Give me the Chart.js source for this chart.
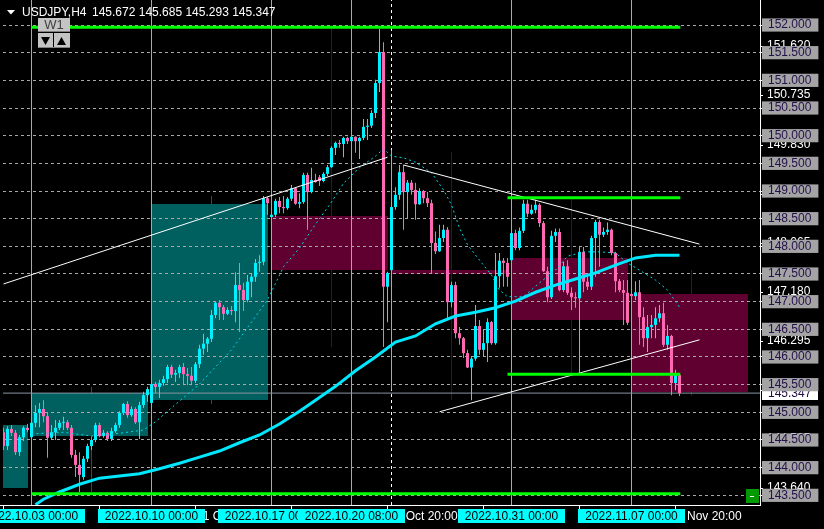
<!DOCTYPE html>
<html lang="en">
<head>
<meta charset="UTF-8" />
<title>USDJPY,H4</title>
<script src="https://cdn.jsdelivr.net/npm/chart.js"></script>
<style>
    html, body { margin: 0; padding: 0; background: #000; }
    canvas { display: block; }
</style>
</head>
<body>
<canvas id="chart" width="824" height="529"></canvas>
<script>
// bar index 0 = 2022.10.03 00:00, one H4 bar each, 30 bars per week
const firstBar = -7;

const open = [
    144.64, 144.39, 144.70, 144.63, 144.28, 144.55, 144.72,
    144.55, 144.81, 144.99, 145.06, 144.93, 144.54, 144.64, 144.72, 144.81, 144.82,
    144.72, 144.23, 144.05, 143.83, 144.16, 144.39, 144.50, 144.77, 144.57, 144.63,
    144.52, 144.66, 144.77, 144.99, 145.15, 144.95, 145.06, 144.82, 145.13, 145.31,
    145.17, 145.51, 145.46, 145.53, 145.60, 145.82, 145.68, 145.71, 145.82, 145.69,
    145.66, 145.57, 145.87, 146.15, 146.24, 146.33, 146.76, 146.98, 146.90, 146.78,
    146.85, 146.83, 147.30, 147.21, 147.03, 147.36, 147.45, 147.70, 147.72, 148.87,
    148.53, 148.57, 148.82, 148.71, 148.69, 148.86, 149.05, 148.77, 148.80, 149.29,
    148.98, 149.20, 149.25, 149.18, 149.31, 149.43, 149.78, 149.87, 149.85, 149.96,
    149.90, 149.98, 149.90, 149.96, 150.16, 150.18, 150.41, 150.95, 151.51, 147.27,
    147.57, 148.71, 148.93, 149.34, 148.98, 149.15, 149.02, 148.76, 149.00, 148.87,
    148.78, 148.06, 147.91, 148.15, 148.30, 146.99, 147.30, 146.43, 146.34, 146.07,
    145.81, 145.97, 146.56, 146.13, 146.25, 146.63, 146.25, 147.46, 147.74, 147.70,
    147.75, 148.24, 147.97, 148.28, 148.77, 148.59, 148.66, 148.75, 148.42, 147.55,
    147.08, 148.19, 148.26, 147.21, 147.64, 147.16, 147.08, 147.06, 147.90, 147.36,
    147.27, 148.15, 148.44, 148.21, 148.26, 148.30, 147.88, 147.37, 147.21, 147.16,
    147.14, 147.10, 147.17, 146.72, 146.34, 146.54, 146.58, 146.70, 146.79, 146.22,
    146.38, 145.53, 145.672
];
const high = [
    144.72, 144.75, 144.77, 144.68, 144.59, 144.75, 144.79,
    144.99, 145.13, 145.17, 145.22, 144.99, 144.77, 144.86, 144.86, 144.92, 144.86,
    144.77, 144.32, 144.28, 144.21, 144.43, 144.55, 144.81, 144.81, 144.68, 144.66,
    144.72, 144.81, 145.02, 145.17, 145.20, 145.11, 145.09, 145.19, 145.37, 145.46,
    145.55, 145.55, 145.59, 145.66, 145.86, 145.86, 145.77, 145.86, 145.89, 145.80,
    145.82, 145.91, 146.22, 146.42, 146.36, 146.85, 147.01, 147.03, 146.94, 146.90,
    146.92, 147.53, 147.70, 147.34, 147.48, 147.52, 147.77, 147.84, 148.91, 148.89,
    148.66, 148.86, 148.89, 148.91, 148.89, 149.11, 149.07, 148.96, 149.33, 149.33,
    149.42, 149.31, 149.29, 149.34, 149.47, 149.81, 149.89, 149.92, 149.98, 149.98,
    150.00, 149.99, 149.98, 150.30, 150.30, 150.46, 151.01, 151.93, 151.69, 147.54,
    148.75, 149.07, 149.47, 149.47, 149.20, 149.20, 149.15, 149.05, 149.02, 148.98,
    148.84, 148.27, 148.39, 148.39, 148.35, 147.36, 147.36, 146.54, 146.36, 146.13,
    146.00, 146.94, 146.67, 146.49, 146.70, 146.65, 147.88, 147.88, 147.79, 147.79,
    148.30, 148.30, 148.34, 148.84, 148.84, 148.75, 148.84, 148.78, 148.46, 147.63,
    148.28, 148.32, 148.32, 147.72, 147.75, 147.26, 147.17, 147.99, 147.99, 147.52,
    148.19, 148.48, 148.48, 148.34, 148.43, 148.32, 147.90, 147.41, 147.39, 147.39,
    147.21, 147.37, 147.39, 146.90, 146.76, 146.76, 146.90, 146.94, 146.98, 146.58,
    146.40, 145.77, 145.685
];
const low = [
    144.32, 144.32, 144.57, 144.23, 144.21, 144.48, 144.64,
    144.54, 144.73, 144.73, 144.82, 144.18, 144.50, 144.50, 144.68, 144.68, 144.68,
    144.18, 143.83, 143.56, 143.78, 144.10, 144.32, 144.46, 144.55, 144.54, 144.48,
    144.48, 144.63, 144.72, 144.95, 144.90, 144.92, 144.79, 144.52, 145.08, 145.19,
    145.15, 145.35, 145.26, 145.48, 145.53, 145.62, 145.55, 145.62, 145.49, 145.49,
    145.49, 145.53, 145.80, 146.04, 146.09, 146.27, 146.70, 146.67, 146.67, 146.76,
    146.76, 146.63, 146.45, 146.83, 146.99, 147.08, 147.36, 147.54, 147.66, 148.57,
    148.51, 148.53, 148.60, 148.60, 148.66, 148.82, 148.75, 148.69, 148.77, 148.30,
    148.96, 149.15, 149.09, 149.16, 149.27, 149.42, 149.65, 149.78, 149.61, 149.85,
    149.89, 149.69, 149.58, 149.92, 149.92, 150.14, 150.32, 150.79, 146.18, 146.63,
    147.54, 148.66, 148.84, 148.30, 148.51, 148.93, 148.48, 148.75, 148.78, 148.71,
    147.52, 147.86, 147.90, 148.08, 146.67, 146.90, 146.34, 146.22, 145.98, 145.80,
    145.22, 145.93, 146.04, 146.00, 145.91, 146.22, 146.22, 147.25, 147.27, 147.27,
    147.74, 147.93, 147.93, 148.24, 148.53, 148.57, 148.60, 148.35, 147.54, 146.99,
    147.05, 148.08, 147.19, 147.17, 147.12, 146.85, 146.89, 145.71, 147.17, 147.21,
    147.21, 147.45, 147.63, 148.17, 148.21, 147.84, 147.17, 147.17, 146.58, 146.58,
    147.03, 147.03, 146.22, 146.18, 146.09, 146.34, 146.34, 146.63, 146.18, 146.13,
    145.31, 145.40, 145.293
];
const close = [
    144.39, 144.70, 144.63, 144.28, 144.55, 144.72, 144.68,
    144.81, 144.99, 145.06, 144.93, 144.54, 144.64, 144.72, 144.81, 144.82, 144.72,
    144.23, 144.05, 143.87, 144.16, 144.39, 144.50, 144.77, 144.57, 144.63, 144.52,
    144.66, 144.77, 144.99, 145.15, 144.95, 145.06, 144.82, 145.13, 145.31, 145.42,
    145.51, 145.46, 145.53, 145.60, 145.82, 145.68, 145.71, 145.82, 145.69, 145.66,
    145.57, 145.87, 146.15, 146.24, 146.33, 146.76, 146.98, 146.90, 146.78, 146.85,
    146.83, 147.30, 147.21, 147.03, 147.36, 147.45, 147.70, 147.72, 148.87, 148.78,
    148.57, 148.82, 148.71, 148.69, 148.86, 149.05, 148.77, 148.80, 149.29, 148.98,
    149.20, 149.16, 149.18, 149.31, 149.43, 149.78, 149.87, 149.85, 149.96, 149.90,
    149.98, 149.90, 149.96, 150.16, 150.18, 150.41, 150.95, 151.51, 147.27, 147.52,
    148.71, 148.93, 149.34, 148.98, 149.15, 149.02, 148.76, 149.00, 148.87, 148.78,
    148.06, 147.91, 148.15, 148.30, 146.99, 147.30, 146.43, 146.34, 146.07, 145.81,
    145.97, 146.56, 146.13, 146.25, 146.63, 146.25, 147.46, 147.74, 147.70, 147.45,
    148.24, 147.97, 148.28, 148.77, 148.59, 148.66, 148.75, 148.42, 147.55, 147.08,
    148.19, 148.26, 147.21, 147.64, 147.16, 147.08, 147.06, 147.90, 147.36, 147.27,
    148.15, 148.44, 148.21, 148.26, 148.30, 147.88, 147.37, 147.21, 147.16, 146.62,
    147.10, 147.17, 146.72, 146.34, 146.54, 146.58, 146.70, 146.79, 146.22, 146.38,
    145.53, 145.68, 145.347
];

// weekly candles (W1 overlay)
const weekStart = [-30, 0, 30, 60, 90, 120, 150];
const weekOpen = [143.64, 144.57, 145.22, 148.55, 147.57, 147.79, 147.14];
const weekHigh = [144.90, 145.46, 148.91, 151.94, 149.71, 148.86, 147.57];
const weekLow = [143.50, 143.56, 145.15, 146.18, 145.22, 145.71, 145.29];
const weekClose = [144.77, 145.35, 148.77, 147.57, 147.50, 146.67, 145.37];

// moving averages
const maSlowIdx = [1, 3, 7, 12, 17, 22, 27, 32, 37, 42, 47, 52, 57, 62, 67, 71, 76, 81, 86, 91, 96, 101, 106, 111, 116, 121, 126, 131, 136, 141, 146, 151, 156, 162];
const maSlowVal = [143.33, 143.43, 143.56, 143.70, 143.81, 143.85, 143.89, 143.98, 144.08, 144.19, 144.30, 144.45, 144.59, 144.79, 145.02, 145.22, 145.47, 145.75, 146.00, 146.27, 146.38, 146.60, 146.74, 146.81, 146.89, 147.01, 147.17, 147.30, 147.41, 147.52, 147.66, 147.79, 147.84, 147.84];
const maFastIdx = [0, 8, 15, 23, 28, 31, 35, 42, 50, 59, 63, 67, 71, 75, 78, 82, 86, 88, 90, 93, 96, 100, 103, 105, 107, 109, 112, 115, 117, 119, 123, 127, 131, 134, 138, 142, 146, 149, 152, 156, 159, 162];
const maFastVal = [144.61, 144.64, 144.57, 144.63, 144.68, 144.83, 145.08, 145.51, 146.13, 147.03, 147.63, 147.97, 148.40, 148.80, 149.14, 149.42, 149.63, 149.76, 149.63, 149.60, 149.52, 149.33, 149.02, 148.75, 148.33, 148.03, 147.75, 147.48, 147.21, 147.09, 147.09, 147.34, 147.57, 147.82, 147.90, 147.90, 147.88, 147.70, 147.57, 147.39, 147.21, 146.90];

// trend lines: [bar, price] pairs
const trendFrom = [[-7, 147.32], [93, 149.47], [102, 145.01]];
const trendTo = [[89, 149.61], [167, 148.04], [167, 146.31]];

// green horizontal levels
const greenLevel = [151.96, 143.53, 148.88, 145.69];
const greenFrom = [0, 0, 119, 119];
const greenTo = [162.2, 162.2, 162.2, 162.2];

// vertical markers
const markerIdx = [0, 30, 60, 80, 120, 150];
const markerText = ['2022.10.03 00:00', '2022.10.10 00:00', '2022.10.17 00:00', '2022.10.20 08:00', '2022.10.31 00:00', '2022.11.07 00:00'];
const dashedIdx = 90;

// axes
const priceTicks = [143.5, 144.0, 144.5, 145.0, 145.5, 146.0, 146.5, 147.0, 147.5, 148.0, 148.5, 149.0, 149.5, 150.0, 150.5, 151.0, 151.5, 152.0];
const levelLabels = [151.620, 150.735, 149.830, 148.950, 148.065, 147.180, 146.295, 145.410, 144.525, 143.640];
const timeTickIdx = [-7, 17, 41, 65, 89, 113, 137, 161];
const timeTickText = ['29 Sep 20:00', '5 Oct 20:00', '11 Oct 20:00', '17 Oct 20:00', '21 Oct 20:00', '27 Oct 20:00', '2 Nov 20:00', '8 Nov 20:00'];
const bid = 145.347;
const quote = '145.672 145.685 145.293 145.347';

const yMin = 143.325, yMax = 152.452;
const xMin = -7.125, xMax = 182.125;

const bullColor = '#00f0ff';
const bearColor = '#ff69b4';
const tealBox = '#005f5f';
const maroonBox = '#600030';
const fontFamily = '"Liberation Sans", Arial, sans-serif';

const bars = open.map((o, k) => k + firstBar);
const candleColors = open.map((o, k) => close[k] >= o ? bullColor : bearColor);

function lineSet(points, color, width, order, dash) {
    return {
        type: 'line',
        data: points.map(p => ({ x: p[0], y: p[1] })),
        borderColor: color,
        borderWidth: width,
        borderDash: dash || [],
        pointRadius: 0,
        tension: 0,
        order: order
    };
}

const datasets = [];

markerIdx.forEach(i => datasets.push(lineSet([[i, yMin], [i, yMax]], '#20e0f0', 1, 20)));
datasets.push(lineSet([[dashedIdx, yMin], [dashedIdx, yMax]], '#ffffff', 1, 20, [3, 3]));
datasets.push(lineSet([[dashedIdx, 145.40], [dashedIdx, 149.74]], '#20e0f0', 1, 19));
datasets.push(lineSet([[xMin, bid], [xMax, bid]], '#8896a4', 1, 18));

datasets.push({
    type: 'bar',
    data: bars.map((x, k) => ({ x: x, y: [low[k], high[k]] })),
    backgroundColor: candleColors,
    barPercentage: 0.25,
    categoryPercentage: 1,
    maxBarThickness: 1,
    grouped: false,
    inflateAmount: 0,
    borderWidth: 0,
    order: 10
});
datasets.push({
    type: 'bar',
    data: bars.map((x, k) => ({ x: x, y: [Math.min(open[k], close[k]), Math.max(open[k], close[k])] })),
    backgroundColor: candleColors,
    barPercentage: 0.75,
    categoryPercentage: 1,
    maxBarThickness: 3,
    minBarLength: 1,
    grouped: false,
    inflateAmount: 0,
    borderWidth: 0,
    order: 9
});

datasets.push(lineSet(maFastIdx.map((x, k) => [x, maFastVal[k]]), '#00d8e8', 1, 6, [2, 3]));
datasets.push(lineSet(maSlowIdx.map((x, k) => [x, maSlowVal[k]]), '#00e8ff', 3, 5));
trendFrom.forEach((p, k) => datasets.push(lineSet([p, trendTo[k]], '#ffffff', 1, 4)));
greenLevel.forEach((v, k) => datasets.push(lineSet([[greenFrom[k], v], [greenTo[k], v]], '#00ff00', 3, 3)));

// MT4 style extras: weekly bodies, axis labels, header, buttons
const mt4Decor = {
    id: 'mt4Decor',
    beforeDraw(chart) {
        const { ctx, chartArea: area, scales: { x, y } } = chart;
        ctx.save();
        ctx.fillStyle = '#000';
        ctx.fillRect(0, 0, chart.width, chart.height);

        ctx.save();
        ctx.beginPath();
        ctx.rect(area.left, area.top, area.right - area.left, area.bottom - area.top);
        ctx.clip();
        weekStart.forEach((s, i) => {
            ctx.fillStyle = weekClose[i] >= weekOpen[i] ? tealBox : maroonBox;
            const x1 = Math.floor(x.getPixelForValue(s));
            const x2 = Math.floor(x.getPixelForValue(s + 29));
            const y1 = Math.round(y.getPixelForValue(Math.max(weekOpen[i], weekClose[i])));
            const y2 = Math.round(y.getPixelForValue(Math.min(weekOpen[i], weekClose[i])));
            ctx.fillRect(x1, y1, x2 - x1 + 1, Math.max(1, y2 - y1));
            const xm = Math.floor(x.getPixelForValue(s + 15));
            const h = Math.round(y.getPixelForValue(weekHigh[i]));
            const l = Math.round(y.getPixelForValue(weekLow[i]));
            ctx.fillRect(xm, h, 1, l - h);
        });
        ctx.restore();

        // level labels on the price axis (behind the grid labels)
        ctx.font = '12px ' + fontFamily;
        ctx.textBaseline = 'middle';
        ctx.textAlign = 'left';
        levelLabels.forEach(v => {
            const yy = Math.round(y.getPixelForValue(v));
            ctx.fillStyle = '#ffffff';
            ctx.fillRect(area.right, yy, 3, 1);
            ctx.fillText(v.toFixed(3), area.right + 7, yy);
        });
        const by = Math.round(y.getPixelForValue(bid));
        ctx.fillStyle = '#ffffff';
        ctx.fillRect(area.right + 2, by - 6, 56, 13);
        ctx.fillStyle = '#200a40';
        ctx.fillText(bid.toFixed(3), area.right + 8, by + 0.5);
        ctx.restore();
    },
    afterDraw(chart) {
        const { ctx, chartArea: area, scales: { x } } = chart;
        ctx.save();
        ctx.font = '12px ' + fontFamily;
        ctx.textBaseline = 'middle';

        // time axis
        ctx.fillStyle = '#ffffff';
        ctx.fillRect(0, area.bottom, area.right + 1, 1);
        ctx.textAlign = 'left';
        timeTickIdx.forEach((v, i) => {
            const tx = Math.floor(x.getPixelForValue(v));
            ctx.fillRect(tx, area.bottom + 1, 1, 4);
            ctx.fillText(timeTickText[i], tx + 2, area.bottom + 12);
        });
        ctx.textAlign = 'center';
        markerIdx.forEach((v, i) => {
            const mx = Math.floor(x.getPixelForValue(v)) + 0.5;
            const w = Math.round(ctx.measureText(markerText[i]).width + 14);
            ctx.fillStyle = '#00ffff';
            ctx.fillRect(Math.round(mx - w / 2), area.bottom + 4, w, 14);
            ctx.fillStyle = '#000000';
            ctx.fillText(markerText[i], mx, area.bottom + 11.5);
        });

        // header
        ctx.fillStyle = '#ffffff';
        ctx.beginPath();
        ctx.moveTo(7, 10); ctx.lineTo(15, 10); ctx.lineTo(11, 14.5); ctx.closePath();
        ctx.fill();
        ctx.textAlign = 'left';
        ctx.fillText('USDJPY,H4', 22, 12.5);
        ctx.fillText(quote, 92, 12.5);

        // W1 switch
        ctx.fillStyle = '#c4c4c4';
        ctx.fillRect(38, 18, 32, 14);
        ctx.fillRect(38, 33, 15, 15);
        ctx.fillRect(54, 33, 16, 15);
        ctx.fillStyle = '#808080';
        ctx.fillRect(38, 31, 32, 1);
        ctx.fillRect(38, 47, 32, 1);
        ctx.fillStyle = '#404040';
        ctx.textAlign = 'center';
        ctx.font = '13px ' + fontFamily;
        ctx.fillText('W1', 54, 25.5);
        ctx.fillStyle = '#000000';
        ctx.beginPath();
        ctx.moveTo(41, 37); ctx.lineTo(50, 37); ctx.lineTo(45.5, 45); ctx.closePath();
        ctx.moveTo(57, 45); ctx.lineTo(66, 45); ctx.lineTo(61.5, 37); ctx.closePath();
        ctx.fill();

        // small green button
        ctx.fillStyle = '#009a00';
        ctx.fillRect(746, 489, 13, 14);
        ctx.fillStyle = '#ffffff';
        ctx.fillRect(750, 496, 4, 1);
        ctx.restore();
    }
};

new Chart(document.getElementById('chart'), {
    type: 'bar',
    data: { datasets: datasets },
    options: {
        responsive: false,
        animation: false,
        devicePixelRatio: 1,
        events: [],
        layout: { padding: { left: 3, right: 0, top: 0, bottom: 24 } },
        plugins: { legend: { display: false }, tooltip: { enabled: false } },
        scales: {
            x: {
                type: 'linear',
                display: false,
                offset: false,
                min: xMin,
                max: xMax
            },
            y: {
                position: 'right',
                min: yMin,
                max: yMax,
                afterBuildTicks: s => { s.ticks = priceTicks.map(v => ({ value: v })); },
                afterFit: s => {
                    s.width = 64;
                    s.paddingTop = 0;
                    s.paddingBottom = 0;
                },
                grid: { color: '#a8a8a8', tickColor: '#ffffff', tickLength: 3, drawTicks: true },
                border: { display: true, color: '#ffffff', width: 1, dash: [3, 3] },
                ticks: {
                    autoSkip: false,
                    padding: 5,
                    color: '#24104a',
                    font: { size: 12, family: fontFamily, lineHeight: 1.1 },
                    callback: v => Number(v).toFixed(3),
                    showLabelBackdrop: true,
                    backdropColor: '#a4a4a4',
                    backdropPadding: { left: 6, right: 7, top: 0, bottom: 0 }
                }
            }
        }
    },
    plugins: [mt4Decor]
});
</script>
</body>
</html>
